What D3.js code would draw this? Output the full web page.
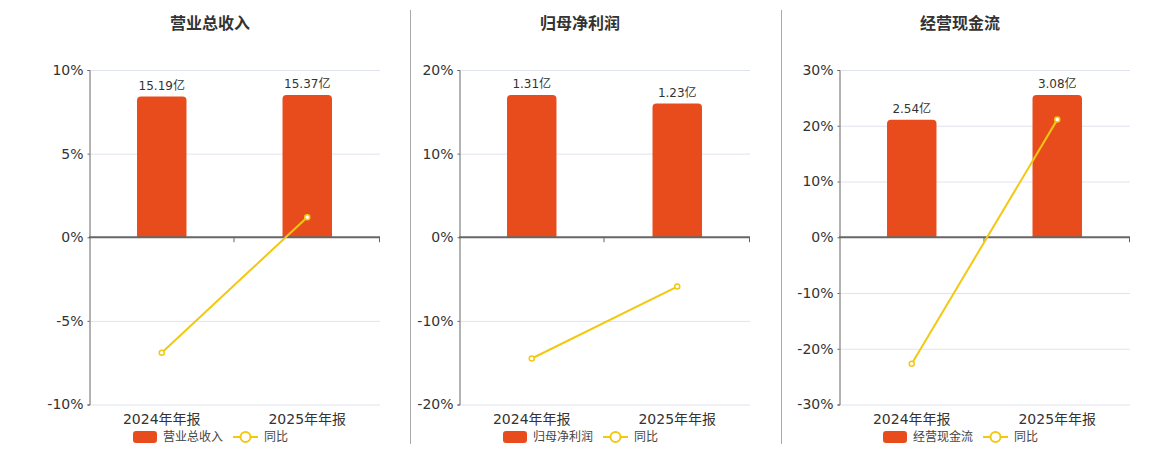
<!DOCTYPE html>
<html>
<head>
<meta charset="utf-8">
<script src="https://cdn.jsdelivr.net/npm/d3@7"></script>
<style>
  body { margin: 0; background: #fff; }
  svg { display: block; font-family: "DejaVu Sans", "Noto Sans CJK SC", sans-serif; }
</style>
</head>
<body>
<div id="chart"></div>
<script>
// 数据
const categories = ['2024年年报', '2025年年报'];
const titles = ['营业总收入', '归母净利润', '经营现金流'];
// 柱子数值（亿）
const revenue = [15.19, 15.37];
const netProfit = [1.31, 1.23];
const cashFlow = [2.54, 3.08];
// 同比（%）
const revenueYoy = [-6.9, 1.2];
const netProfitYoy = [-14.5, -5.9];
const cashFlowYoy = [-22.7, 21.1];
// 左轴刻度
const revenueTicks = [-10, -5, 0, 5, 10];
const netProfitTicks = [-20, -10, 0, 10, 20];
const cashFlowTicks = [-30, -20, -10, 0, 10, 20, 30];

const barColor = '#e84c1c';
const lineColor = '#f2c811';

const svg = d3.select('#chart').append('svg').attr('width', 1160).attr('height', 450);

const plotTop = 70, plotBottom = 404.5;

const panels = [
    { title: titles[0], bars: revenue, yoy: revenueYoy, ticks: revenueTicks, left: 89, right: 380, center: 210 },
    { title: titles[1], bars: netProfit, yoy: netProfitYoy, ticks: netProfitTicks, left: 459, right: 750, center: 580 },
    { title: titles[2], bars: cashFlow, yoy: cashFlowYoy, ticks: cashFlowTicks, left: 839, right: 1130, center: 960 }
];

// 分隔线
[410.5, 781.5].forEach(x => {
    svg.append('line').attr('x1', x).attr('x2', x).attr('y1', 10).attr('y2', 444)
        .attr('stroke', '#aaa').attr('stroke-width', 1);
});

panels.forEach(p => drawPanel(p));

function drawPanel(p) {
    const g = svg.append('g');

    g.append('text').text(p.title)
        .attr('x', p.center).attr('y', 29)
        .attr('text-anchor', 'middle')
        .attr('font-size', 16).attr('font-weight', 'bold').attr('fill', '#333');

    const x = d3.scaleBand().domain(categories).range([p.left, p.right]);
    const y = d3.scaleLinear().domain(d3.extent(p.ticks)).range([plotBottom, plotTop]);
    const zeroY = y(0);

    // 柱子用隐藏的轴, 最大值约在正半轴的 85%
    const barMax = d3.max(p.bars);
    const yBar = d3.scaleLinear().domain([0, barMax * 168 / 143]).range([zeroY, plotTop]);

    // 网格线
    g.append('g').selectAll('line').data(p.ticks.filter(t => t !== 0)).join('line')
        .attr('x1', p.left).attr('x2', p.right)
        .attr('y1', d => y(d) + 0.5).attr('y2', d => y(d) + 0.5)
        .attr('stroke', '#dfe3ee').attr('stroke-width', 1);

    // 左轴
    const yAxis = g.append('g').attr('transform', `translate(${p.left + 0.5},0)`)
        .call(d3.axisLeft(y).tickValues(p.ticks).tickSize(2).tickPadding(4).tickFormat(d => d + '%'));
    yAxis.select('.domain').attr('stroke', '#666');
    yAxis.selectAll('.tick line').attr('stroke', '#666');
    yAxis.selectAll('text').attr('font-size', 14).attr('fill', '#333')
        .attr('font-family', '"DejaVu Sans", sans-serif');

    // 柱子
    const bw = x.bandwidth() * 0.34;
    g.append('g').selectAll('path').data(p.bars).join('path')
        .attr('fill', barColor)
        .attr('d', (d, i) => {
            const cx = x(categories[i]) + x.bandwidth() / 2;
            const x0 = cx - bw / 2, x1 = cx + bw / 2;
            const y0 = yBar(d), r = 4;
            return `M${x0},${zeroY}V${y0 + r}Q${x0},${y0} ${x0 + r},${y0}H${x1 - r}Q${x1},${y0} ${x1},${y0 + r}V${zeroY}Z`;
        });

    g.append('g').selectAll('text').data(p.bars).join('text')
        .text(d => d.toFixed(2) + '亿')
        .attr('x', (d, i) => x(categories[i]) + x.bandwidth() / 2)
        .attr('y', d => yBar(d) - 7)
        .attr('text-anchor', 'middle')
        .attr('font-size', 12).attr('fill', '#333');

    // x 轴 (零线)
    const xAxis = g.append('g').attr('transform', `translate(0,${zeroY})`);
    xAxis.append('line').attr('x1', p.left).attr('x2', p.right)
        .attr('stroke', '#666').attr('stroke-width', 2);
    [p.left + x.bandwidth(), p.right].forEach(tx => {
        xAxis.append('line').attr('x1', tx - 0.5).attr('x2', tx - 0.5).attr('y1', 0).attr('y2', 5)
            .attr('stroke', '#666').attr('stroke-width', 1);
    });

    g.append('g').selectAll('text').data(categories).join('text')
        .text(d => d)
        .attr('x', d => x(d) + x.bandwidth() / 2)
        .attr('y', 424)
        .attr('text-anchor', 'middle')
        .attr('font-size', 14).attr('fill', '#333');

    // 同比折线
    const line = d3.line()
        .x((d, i) => x(categories[i]) + x.bandwidth() / 2)
        .y(d => y(d));
    g.append('path').datum(p.yoy)
        .attr('d', line).attr('fill', 'none')
        .attr('stroke', lineColor).attr('stroke-width', 2);
    g.append('g').selectAll('circle').data(p.yoy).join('circle')
        .attr('cx', (d, i) => x(categories[i]) + x.bandwidth() / 2)
        .attr('cy', d => y(d))
        .attr('r', 2.5)
        .attr('fill', '#fff').attr('stroke', lineColor).attr('stroke-width', 1.5);

    // 图例
    const lg = g.append('g').attr('transform', `translate(${p.center - 77},437)`);
    lg.append('rect').attr('x', 0).attr('y', -6).attr('width', 24).attr('height', 12).attr('rx', 3)
        .attr('fill', barColor);
    lg.append('text').text(p.title).attr('x', 30).attr('y', 0).attr('dy', '0.35em')
        .attr('font-size', 12).attr('fill', '#444');
    lg.append('line').attr('x1', 100).attr('x2', 125).attr('y1', 0).attr('y2', 0)
        .attr('stroke', lineColor).attr('stroke-width', 2);
    lg.append('circle').attr('cx', 112.5).attr('cy', 0).attr('r', 5)
        .attr('fill', '#fff').attr('stroke', lineColor).attr('stroke-width', 2);
    lg.append('text').text('同比').attr('x', 131).attr('y', 0).attr('dy', '0.35em')
        .attr('font-size', 12).attr('fill', '#444');
}
</script>
</body>
</html>
